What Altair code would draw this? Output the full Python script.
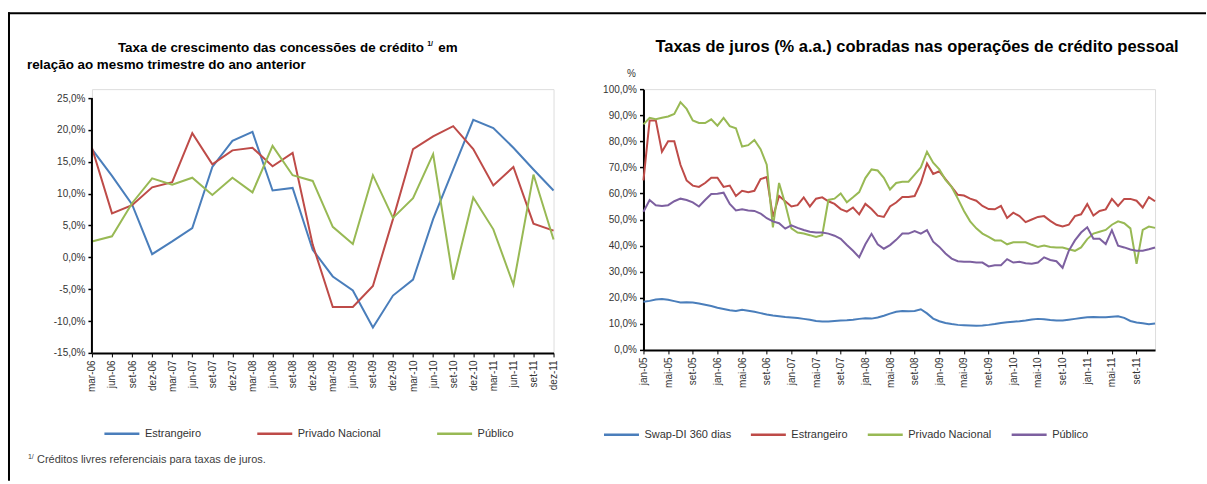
import altair as alt
import pandas as pd

FONT = "Liberation Sans"
TXT = "#333333"

# ---------------- Left chart: quarterly growth ----------------
quarters = ["mar-06", "jun-06", "set-06", "dez-06", "mar-07", "jun-07", "set-07", "dez-07",
            "mar-08", "jun-08", "set-08", "dez-08", "mar-09", "jun-09", "set-09", "dez-09",
            "mar-10", "jun-10", "set-10", "dez-10", "mar-11", "jun-11", "set-11", "dez-11"]
q_estrangeiro = [17.0, 12.8, 8.3, 0.5, 2.5, 4.6, 14.2, 18.3, 19.7, 10.5, 10.9, 1.2,
                 -3.0, -5.2, -11.0, -6.0, -3.5, 6.0, 13.8, 21.6, 20.3, 17.2, 13.8, 10.5]
q_privado = [17.2, 6.9, 8.2, 11.0, 11.8, 19.5, 14.6, 16.8, 17.2, 14.3, 16.4, 2.0,
             -7.8, -7.8, -4.5, 6.0, 17.0, 19.0, 20.6, 17.0, 11.3, 14.2, 5.3, 4.2]
q_publico = [2.5, 3.3, 8.5, 12.4, 11.4, 12.5, 9.8, 12.5, 10.2, 17.5, 12.9, 12.0,
             4.8, 2.1, 12.9, 6.2, 9.3, 16.2, -3.5, 9.4, 4.4, -4.3, 13.0, 2.8]
left_series = ["Estrangeiro", "Privado Nacional", "Público"]
left_colors = ["#4a7ebb", "#be4b48", "#98b954"]
left_ticks = [-15, -10, -5, 0, 5, 10, 15, 20, 25]

# ---------------- Right chart: monthly interest rates ----------------
month_abbr = ["jan", "fev", "mar", "abr", "mai", "jun", "jul", "ago", "set", "out", "nov", "dez"]
years = ["05", "06", "07", "08", "09", "10", "11"]
months = [f"{m}-{y}" for y in years for m in month_abbr]
month_ticks = months[::4]

m_swap = [18.5, 18.8, 19.3, 19.5, 19.2, 18.7, 18.2, 18.3, 18.2, 17.8, 17.3, 16.8,
          16.2, 15.7, 15.2, 14.9, 15.4, 15.0, 14.6, 14.1, 13.6, 13.2, 12.9, 12.6,
          12.4, 12.2, 11.9, 11.6, 11.1, 10.9, 10.9, 11.1, 11.3, 11.4, 11.6, 11.9,
          12.1, 12.0, 12.4, 13.1, 13.9, 14.6, 14.9, 14.8, 14.9, 15.6, 14.0, 12.0,
          11.0, 10.3, 9.9, 9.6, 9.5, 9.4, 9.3, 9.4, 9.6, 9.9, 10.3, 10.6,
          10.8, 11.0, 11.3, 11.7, 11.9, 11.8, 11.5, 11.3, 11.3, 11.6, 11.9, 12.2,
          12.5, 12.6, 12.5, 12.5, 12.7, 12.9, 12.3, 11.1, 10.5, 10.2, 9.8, 10.1]
m_estrangeiro = [65.0, 88.0, 88.0, 76.0, 80.0, 80.0, 71.0, 65.0, 63.0, 62.5, 64.0, 66.0,
                 66.0, 62.5, 63.0, 59.0, 61.0, 60.5, 61.0, 65.5, 66.3, 51.0, 59.0, 57.0,
                 55.0, 55.5, 58.5, 55.0, 58.0, 58.5, 57.0, 56.0, 54.0, 53.0, 54.6, 52.0,
                 56.0, 54.0, 51.5, 51.0, 55.0, 56.5, 58.6, 58.6, 59.0, 64.0, 71.5, 67.5,
                 68.5, 65.5, 62.5, 59.5, 59.2, 58.0, 57.2, 55.2, 54.0, 53.9, 55.2, 50.6,
                 52.6, 51.3, 49.0, 50.0, 51.0, 51.3, 49.5, 48.0, 47.3, 48.0, 51.3, 52.0,
                 55.9, 51.5, 53.3, 53.9, 57.9, 55.2, 57.9, 57.9, 57.2, 54.6, 58.6, 57.0]
m_privado = [86.5, 89.0, 88.5, 89.0, 89.5, 90.5, 95.0, 92.4, 88.0, 87.0, 87.0, 88.4,
             86.0, 89.0, 85.8, 85.0, 78.0, 78.5, 80.5, 77.0, 71.0, 47.0, 64.0, 56.0,
             46.6, 45.0, 44.6, 44.0, 43.3, 44.0, 57.5, 58.0, 60.0, 56.6, 58.5, 60.5,
             65.9, 69.2, 68.8, 66.0, 61.5, 64.0, 64.5, 64.5, 67.2, 70.0, 76.0, 71.8,
             69.2, 65.2, 62.5, 58.0, 53.3, 49.3, 46.6, 44.6, 43.3, 42.0, 42.0, 40.5,
             41.3, 41.3, 41.3, 40.3, 39.5, 40.0, 39.5, 39.3, 39.3, 38.6, 38.0, 39.3,
             42.5, 44.6, 45.3, 46.0, 48.0, 49.3, 48.6, 46.6, 33.0, 46.0, 47.3, 46.8]
m_publico = [53.0, 57.5, 55.5, 55.2, 55.5, 57.0, 58.0, 57.5, 56.6, 55.0, 57.5, 59.8,
             59.9, 60.3, 56.0, 53.5, 53.9, 53.5, 53.3, 52.3, 50.5, 49.3, 48.6, 46.5,
             47.8, 46.8, 46.0, 45.3, 45.0, 45.0, 44.6, 43.8, 42.6, 40.2, 38.0, 35.5,
             40.5, 44.5, 40.5, 38.8, 40.2, 42.2, 44.6, 44.6, 45.6, 44.6, 45.9, 41.5,
             39.5, 37.0, 35.0, 34.0, 33.8, 33.8, 33.5, 33.5, 32.0, 32.5, 32.5, 34.8,
             33.5, 33.8, 33.2, 33.0, 33.5, 35.5, 34.5, 34.0, 31.5, 38.0, 42.0, 45.0,
             47.0, 42.6, 42.6, 40.6, 45.9, 40.0, 39.3, 38.5, 38.0, 38.0, 38.6, 39.3]
right_series = ["Swap-DI 360 dias", "Estrangeiro", "Privado Nacional", "Público"]
right_colors = ["#4a7ebb", "#be4b48", "#98b954", "#7d60a0"]
right_ticks = list(range(0, 101, 10))

# ---------------- Tables ----------------
left_rows = []
for name, vals in zip(left_series, [q_estrangeiro, q_privado, q_publico]):
    for q, v in zip(quarters, vals):
        left_rows.append({"Trimestre": q, "Série": name, "Valor": v})
df_left = pd.DataFrame(left_rows)

right_rows = []
for name, vals in zip(right_series, [m_swap, m_estrangeiro, m_privado, m_publico]):
    for m, v in zip(months, vals):
        right_rows.append({"Mês": m, "Série": name, "Valor": v})
df_right = pd.DataFrame(right_rows)

PCT = "(datum.value < 0 ? '-' : '') + replace(format(abs(datum.value), '.1f'), '.', ',') + '%'"

# geometry
WL, HL = 462, 264
WR, HR = 512, 261
PX_PER_PCT_L = 255 / 40.0
left_top = 25 + 9 / PX_PER_PCT_L


def txt(text, x, y, size, weight="normal", color="black", align="left"):
    return alt.Chart(pd.DataFrame({"t": [text]})).mark_text(
        font=FONT, fontSize=size, fontWeight=weight, color=color, align=align, baseline="middle"
    ).encode(x=alt.value(x), y=alt.value(y), text="t:N")


def legend(x, y, pad):
    return alt.Legend(orient="none", legendX=x, legendY=y, direction="horizontal", title=None,
                      symbolType="stroke", symbolSize=1225, symbolStrokeWidth=2.5,
                      labelFont=FONT, labelFontSize=11, labelColor=TXT, labelOffset=4,
                      columnPadding=pad, padding=0)


left_y_axis = alt.Axis(values=left_ticks, labelExpr=PCT, domain=False, grid=False, title=None,
                       tickColor="black", tickSize=4, tickWidth=1.5, labelFont=FONT,
                       labelFontSize=10, labelColor=TXT, labelPadding=3, labelOverlap=False)

# ---------- left ----------
left_lines = alt.Chart(df_left).mark_line(strokeWidth=2).encode(
    x=alt.X("Trimestre:N", sort=quarters, scale=alt.Scale(type="point", padding=0),
            axis=alt.Axis(title=None, labelAngle=-90, labelFont=FONT, labelFontSize=10,
                          labelColor=TXT, domainColor="black", domainWidth=2,
                          tickColor="black", tickSize=4, labelPadding=3, labelOverlap=False)),
    y=alt.Y("Valor:Q", scale=alt.Scale(domain=[-15, left_top], nice=False, zero=False),
            axis=left_y_axis),
    color=alt.Color("Série:N", scale=alt.Scale(domain=left_series, range=left_colors),
                    legend=legend(11, 326, 50)),
)
left_axis_line = alt.Chart(pd.DataFrame({"lo": [-15], "hi": [25]})).mark_rule(
    color="black", strokeWidth=2).encode(y=alt.Y("lo:Q", axis=left_y_axis), y2="hi:Q",
                                         x=alt.value(0))

TS = 13.4
w_main = 22.954 * TS
title_l1 = txt("Taxa de crescimento das concessões de crédito", 26, -41, TS, "bold")
title_sup = txt("1/", 26 + w_main + 2, -45, 7, "bold")
title_em = txt("em", 26 + w_main + 13, -41, TS, "bold")
title_l2 = txt("relação ao mesmo trimestre do ano anterior", -65, -24, TS, "bold")
foot_sup = txt("1/", -64, 368, 7, "normal", "#404040")
foot = txt("Créditos livres referenciais para taxas de juros.", -55, 371, 11, "normal", "#404040")

# frame drawn as thin filled rectangles (top edge and left edge)
border_top = alt.Chart(pd.DataFrame({"b": ["top"]})).mark_rect(
    color="black", strokeWidth=0).encode(
    x=alt.value(-84), x2=alt.value(1115), y=alt.value(-77), y2=alt.value(-75))
border_left = alt.Chart(pd.DataFrame({"b": ["left"]})).mark_rect(
    color="black", strokeWidth=0).encode(
    x=alt.value(-84), x2=alt.value(-82), y=alt.value(-77), y2=alt.value(392))

left = alt.layer(left_lines, left_axis_line, title_l1, title_sup, title_em, title_l2,
                 foot_sup, foot, border_top, border_left).properties(width=WL, height=HL)

# ---------- right ----------
right_lines = alt.Chart(df_right).mark_line(strokeWidth=2).encode(
    x=alt.X("Mês:N", sort=months, scale=alt.Scale(type="point", padding=0),
            axis=alt.Axis(title=None, values=month_ticks, labelAngle=-90, labelFont=FONT,
                          labelFontSize=10, labelColor=TXT, domainColor="black", domainWidth=2,
                          tickColor="black", tickSize=4, labelPadding=3, labelOverlap=False)),
    y=alt.Y("Valor:Q", scale=alt.Scale(domain=[0, 100], nice=False),
            axis=alt.Axis(values=right_ticks, labelExpr=PCT, grid=False, title=None,
                          domainColor="black", domainWidth=2, tickColor="black", tickSize=4,
                          tickWidth=1.5, labelFont=FONT, labelFontSize=10, labelColor=TXT,
                          labelPadding=3, labelOverlap=False)),
    color=alt.Color("Série:N", scale=alt.Scale(domain=right_series, range=right_colors),
                    legend=legend(-41, 327, 14)),
)
r_title = txt("Taxas de juros (% a.a.) cobradas nas operações de crédito pessoal", 12, -42, 16.5, "bold")
r_pct = txt("%", -12, -15, 10, "normal", TXT, "center")

right = alt.layer(right_lines, r_title, r_pct).properties(width=WR, height=HR)

chart = alt.hconcat(left, right, spacing=90, bounds="flush").resolve_scale(
    color="independent"
).properties(
    padding={"left": 7, "top": 11, "right": 0, "bottom": 0}
).configure_view(stroke=None).configure(font=FONT)

chart.save("out.html", embed_options={"renderer": "svg", "actions": False})
